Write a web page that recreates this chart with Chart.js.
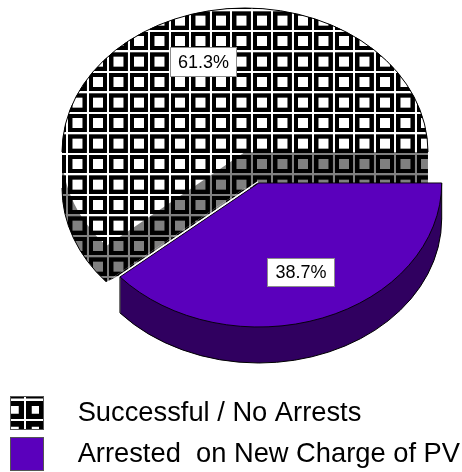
<!DOCTYPE html>
<html>
<head>
<meta charset="utf-8">
<style>html,body{margin:0;padding:0;background:#fff}canvas{display:block}</style>
<script src="https://cdn.jsdelivr.net/npm/chart.js@4"></script>
</head>
<body>
<canvas id="c" width="462" height="472"></canvas>
<script>
const categories = ['Successful / No Arrests', 'Arrested  on New Charge of PV'];
const values = [61.3, 38.7];
const sliceColor = '#5A00BC';
const sideColor = '#300060';

const CX = 245, CY = 152, R = 183, K = 144 / 183, DEPTH = 36, EXPLODE_X = 13.7, EXPLODE_Y = 31;
const TILE_SCALE = 0.25, TILE = 82;

function makeTile(inner, box) {
  const t = document.createElement('canvas');
  t.width = t.height = TILE;
  const g = t.getContext('2d');
  g.fillStyle = inner; g.fillRect(0, 0, TILE, TILE);
  g.fillStyle = '#000'; g.fillRect(9, 9, TILE - 9, TILE - 9);
  g.fillStyle = inner; g.fillRect(45.5 - box / 2, 45.5 - box / 2, box, box);
  return t;
}
function makePattern(ctx, inner, box, px, py, yFix) {
  const p = ctx.createPattern(makeTile(inner, box), 'repeat');
  p.setTransform(new DOMMatrix().scale(1, yFix).translate(px, py).scale(TILE_SCALE));
  return p;
}
const ctx0 = document.getElementById('c').getContext('2d');
const faceFill = makePattern(ctx0, '#fff', 40, 4.6, 9.2, 1 / K);
const greyFill = makePattern(ctx0, '#808080', 40, 4.6, 9.2, 1);
const swatchFill = makePattern(ctx0, '#fff', 30, 24, 9, 1);

function sweptSector(ctx, x, y, a0, a1) {
  ctx.beginPath();
  for (let t = 0; t <= DEPTH; t++) {
    ctx.moveTo(x, y + t);
    ctx.ellipse(x, y + t, R, R * K, 0, a0, a1);
    ctx.closePath();
  }
}

const pie3d = {
  id: 'pie3d',
  afterDatasetsUpdate(chart) {
    const arcs = chart.getDatasetMeta(0).data;
    arcs[0].x = CX; arcs[0].y = CY / K;
    arcs[1].x = CX + EXPLODE_X;
    arcs[1].y = (CY + EXPLODE_Y) / K;
  },
  beforeDatasetsDraw(chart) {
    const ctx = chart.ctx;
    const [m, p] = chart.getDatasetMeta(0).data;
    const px = p.x, py = p.y * K;
    const ca = Math.cos(p.endAngle) * R, sa = Math.sin(p.endAngle) * R * K;
    ctx.save();
    sweptSector(ctx, CX, CY, m.startAngle, m.endAngle);
    ctx.fillStyle = greyFill; ctx.fill('nonzero');
    // the pie's cut wall runs right up to the exploded slice
    ctx.beginPath();
    ctx.moveTo(CX + ca, CY + sa + DEPTH);
    ctx.lineTo(px + ca, py + sa - 2);
    ctx.lineTo(px, py - 2);
    ctx.lineTo(CX, CY + DEPTH);
    ctx.closePath();
    ctx.fill();
    sweptSector(ctx, px, py, p.startAngle, p.endAngle);
    ctx.fillStyle = sideColor; ctx.fill('nonzero');
    // outer outlines of the sides
    ctx.lineWidth = 1; ctx.strokeStyle = '#000';
    ctx.beginPath();
    ctx.ellipse(px, py + DEPTH, R, R * K, 0, p.startAngle, p.endAngle);
    ctx.lineTo(px + ca, py + sa);
    ctx.moveTo(px + R, py);
    ctx.lineTo(px + R, py + DEPTH);
    ctx.stroke();
    ctx.beginPath();
    ctx.ellipse(CX, CY + DEPTH, R, R * K, 0, m.startAngle, Math.PI);
    ctx.stroke();
    ctx.restore();
    ctx.save();
    ctx.scale(1, K);
  },
  afterDatasetsDraw(chart) {
    const ctx = chart.ctx;
    ctx.restore();
    const [m, p] = chart.getDatasetMeta(0).data;
    ctx.save();
    ctx.lineWidth = 1; ctx.strokeStyle = '#000';
    ctx.beginPath();
    ctx.ellipse(CX, CY, R, R * K, 0, Math.PI, Math.PI * 2);
    ctx.stroke();
    // white highlight along the cut edge of the exploded slice
    const px = p.x, py = p.y * K;
    ctx.strokeStyle = '#fff'; ctx.lineWidth = 1.2;
    ctx.beginPath();
    ctx.moveTo(px - 0.8, py - 1.2);
    ctx.lineTo(px + R * Math.cos(p.endAngle) - 0.8, py + R * K * Math.sin(p.endAngle) - 1.2);
    ctx.stroke();
    // percentage labels
    const total = values.reduce((s, v) => s + v, 0);
    const boxes = [[170, 47, 67, 30], [267, 258, 68, 29]];
    ctx.font = '18px "Liberation Sans"';
    ctx.textAlign = 'center'; ctx.textBaseline = 'middle';
    values.forEach((v, i) => {
      const [x, y, w, h] = boxes[i];
      ctx.fillStyle = '#fff'; ctx.fillRect(x, y, w, h);
      ctx.strokeStyle = '#8c8c8c'; ctx.lineWidth = 1;
      ctx.strokeRect(x + 0.5, y + 0.5, w - 1, h - 1);
      ctx.fillStyle = '#000';
      ctx.fillText((v / total * 100).toFixed(1) + '%', x + w / 2, y + h / 2 + 1);
    });
    ctx.restore();
  },
  afterDraw(chart) {
    const ctx = chart.ctx;
    const hits = chart.legend.legendHitBoxes;
    ctx.save();
    [swatchFill, sliceColor].forEach((fill, i) => {
      const b = hits[i];
      ctx.fillStyle = fill;
      ctx.fillRect(b.left, b.top, 34, 34);
      ctx.strokeStyle = '#555'; ctx.lineWidth = 1;
      ctx.strokeRect(b.left + 0.5, b.top + 0.5, 33, 33);
    });
    ctx.restore();
  }
};

new Chart(document.getElementById('c'), {
  type: 'pie',
  data: {
    labels: categories,
    datasets: [{
      data: values,
      backgroundColor: [faceFill, sliceColor],
      borderColor: '#000',
      borderWidth: [0, 1]
    }]
  },
  plugins: [pie3d],
  options: {
    responsive: false,
    animation: false,
    radius: R,
    rotation: 229.3,
    layout: { padding: { left: 3, bottom: -9 } },
    plugins: {
      tooltip: { enabled: false },
      legend: {
        position: 'bottom',
        align: 'start',
        labels: {
          boxWidth: 54,
          boxHeight: 34,
          padding: 7,
          color: '#000',
          font: { family: '"Liberation Sans"', size: 27.3 },
          generateLabels: (chart) => chart.data.labels.map((t, i) => ({
            text: t, fillStyle: 'rgba(0,0,0,0)', strokeStyle: 'rgba(0,0,0,0)',
            lineWidth: 0, hidden: false, index: i
          }))
        }
      }
    }
  }
});
</script>
</body>
</html>
